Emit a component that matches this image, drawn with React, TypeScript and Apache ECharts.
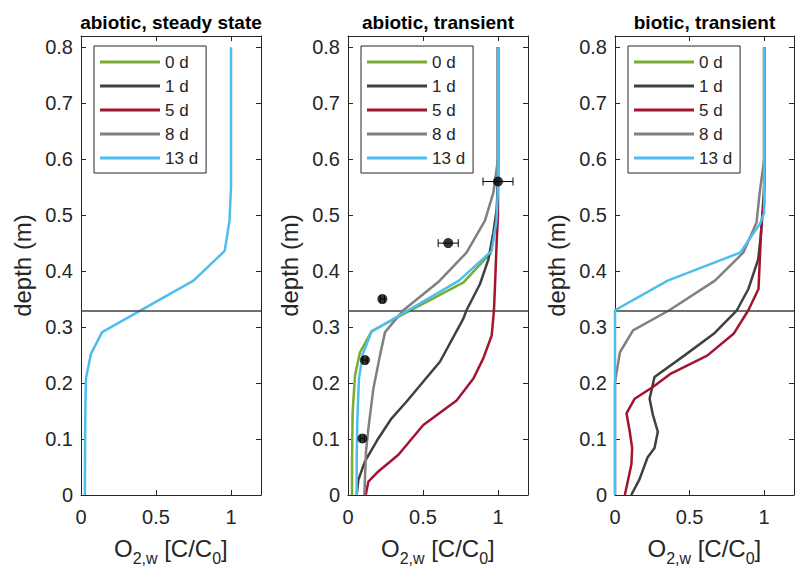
import React, { useEffect, useRef } from "react";
import * as echarts from "echarts";

// ---------- data: [O2 (C/C0), depth (m)] ----------
const LEGEND_NAMES = ["0 d", "1 d", "5 d", "8 d", "13 d"];
const COLORS: Record<string, string> = {
  "0 d": "#77AC30",
  "1 d": "#404040",
  "5 d": "#A2142F",
  "8 d": "#808080",
  "13 d": "#4DBEEE",
};
const PANEL_TITLES = ["abiotic, steady state", "abiotic, transient", "biotic, transient"];
const X_TICKS = [0, 0.5, 1];
const Y_TICKS = [0, 0.1, 0.2, 0.3, 0.4, 0.5, 0.6, 0.7, 0.8];
const INTERFACE_DEPTH = 0.33;

// panel 1: abiotic steady state
const SS_13D = [[0.026, 0], [0.027, 0.08], [0.029, 0.15], [0.033, 0.208], [0.066, 0.252], [0.141, 0.291], [0.75, 0.383], [0.958, 0.436], [0.99, 0.49], [1.0, 0.55], [1.0, 0.8]];

// panel 2: abiotic transient
const AT_0D = [[0.027, 0], [0.027, 0.066], [0.031, 0.149], [0.047, 0.214], [0.08, 0.255], [0.158, 0.293], [0.77, 0.38], [0.95, 0.432], [0.99, 0.49], [1.0, 0.55], [1.0, 0.8]];
const AT_1D = [[0.058, 0], [0.069, 0.027], [0.113, 0.06], [0.202, 0.101], [0.291, 0.137], [0.391, 0.167], [0.494, 0.2], [0.613, 0.238], [0.769, 0.315], [0.79, 0.33], [0.88, 0.377], [0.936, 0.421], [0.969, 0.469], [0.991, 0.51], [1.0, 0.56], [1.0, 0.8]];
const AT_5D = [[0.118, 0], [0.136, 0.024], [0.202, 0.042], [0.336, 0.072], [0.502, 0.125], [0.724, 0.169], [0.836, 0.208], [0.902, 0.244], [0.958, 0.285], [0.973, 0.33], [0.98, 0.374], [0.991, 0.451], [1.0, 0.5], [1.0, 0.8]];
const AT_8D = [[0.109, 0], [0.12, 0.078], [0.136, 0.119], [0.169, 0.19], [0.213, 0.249], [0.247, 0.291], [0.369, 0.33], [0.6, 0.38], [0.79, 0.433], [0.913, 0.49], [0.969, 0.54], [1.0, 0.6], [1.0, 0.8]];
const AT_13D = [[0.058, 0], [0.058, 0.066], [0.062, 0.131], [0.073, 0.208], [0.098, 0.252], [0.158, 0.292], [0.74, 0.383], [0.958, 0.436], [0.99, 0.49], [1.0, 0.55], [1.0, 0.8]];
// measurements: [x, depth, x error]
const AT_OBS = [[1.0, 0.56, 0.1], [0.668, 0.45, 0.067], [0.229, 0.35, 0.015], [0.113, 0.241, 0.015], [0.096, 0.101, 0.015]];

// panel 3: biotic transient
const BT_1D = [[0.109, 0], [0.164, 0.028], [0.218, 0.067], [0.265, 0.084], [0.287, 0.113], [0.254, 0.143], [0.232, 0.172], [0.265, 0.211], [0.464, 0.249], [0.662, 0.288], [0.817, 0.33], [0.894, 0.368], [0.96, 0.421], [0.98, 0.47], [1.0, 0.55], [1.0, 0.8]];
const BT_5D = [[0.066, 0], [0.09, 0.03], [0.11, 0.055], [0.115, 0.084], [0.099, 0.113], [0.077, 0.146], [0.132, 0.172], [0.254, 0.193], [0.375, 0.217], [0.618, 0.249], [0.795, 0.288], [0.894, 0.33], [0.962, 0.368], [0.971, 0.421], [0.982, 0.487], [1.0, 0.52], [1.0, 0.8]];
const BT_8D = [[0, 0], [0, 0.2], [0.011, 0.22], [0.033, 0.255], [0.121, 0.294], [0.364, 0.33], [0.67, 0.383], [0.86, 0.433], [0.949, 0.487], [0.97, 0.54], [1.0, 0.6], [1.0, 0.8]];
const BT_13D = [[0, 0], [0, 0.33], [0.353, 0.383], [0.839, 0.433], [0.971, 0.484], [1.0, 0.504], [1.0, 0.8]];

const PANEL_SERIES: { name: string; data: number[][] }[][] = [
  [{ name: "13 d", data: SS_13D }],
  [
    { name: "0 d", data: AT_0D },
    { name: "1 d", data: AT_1D },
    { name: "5 d", data: AT_5D },
    { name: "8 d", data: AT_8D },
    { name: "13 d", data: AT_13D },
  ],
  [
    { name: "1 d", data: BT_1D },
    { name: "5 d", data: BT_5D },
    { name: "8 d", data: BT_8D },
    { name: "13 d", data: BT_13D },
  ],
];

const X_MAX = 1.2;
const Y_MAX = 0.82;

const FONT = "'Liberation Sans', Arial, Helvetica, sans-serif";
const AXIS_COLOR = "#262626";

export default function App() {
  const ref = useRef<HTMLDivElement>(null);

  useEffect(() => {
    if (!ref.current) return;
    const chart = echarts.init(ref.current, undefined, { renderer: "svg" });

    const gridLefts = [81, 348, 615];
    const gridWidths = [180, 180, 179];
    const gridTop = 36;
    const gridHeight = 461;

    const grids: any[] = [];
    const xAxes: any[] = [];
    const yAxes: any[] = [];
    const series: any[] = [];
    const legends: any[] = [];
    const graphics: any[] = [];

    const fmtX = (v: number) => {
      const hit = X_TICKS.find((t) => Math.abs(t - v) < 1e-6);
      return hit === undefined ? "" : String(hit);
    };
    const fmtY = (v: number) => {
      const hit = Y_TICKS.find((t) => Math.abs(t - v) < 1e-6);
      return hit === undefined ? "" : String(hit);
    };

    for (let g = 0; g < 3; g++) {
      grids.push({
        left: gridLefts[g],
        top: gridTop,
        width: gridWidths[g],
        height: gridHeight,
        show: false,
      });
      const tick = { show: true, inside: true, length: 5, lineStyle: { color: AXIS_COLOR, width: 1 } };
      const line = { show: true, onZero: false, lineStyle: { color: AXIS_COLOR, width: 1 } };
      xAxes.push({
        type: "value",
        gridIndex: g,
        position: "bottom",
        min: 0,
        max: X_MAX,
        interval: 0.5,
        axisLine: line,
        axisTick: tick,
        splitLine: { show: false },
        axisLabel: {
          color: AXIS_COLOR,
          fontSize: 20,
          fontFamily: FONT,
          margin: 12,
          formatter: fmtX,
          showMaxLabel: false,
        },
        name: "{a|O}{s|2,w}{a| [C/C}{s|0}{a|]}{z| }",
        nameLocation: "middle",
        nameGap: 41,
        nameTextStyle: {
          color: AXIS_COLOR,
          fontFamily: FONT,
          rich: {
            a: { fontSize: 24, lineHeight: 24, verticalAlign: "top", color: AXIS_COLOR, fontFamily: FONT },
            s: { fontSize: 16, lineHeight: 16, verticalAlign: "bottom", color: AXIS_COLOR, fontFamily: FONT },
            z: { fontSize: 1, lineHeight: 30, verticalAlign: "top" },
          },
        },
      });
      xAxes.push({
        type: "value",
        gridIndex: g,
        position: "top",
        min: 0,
        max: X_MAX,
        interval: 0.5,
        axisLine: line,
        axisTick: tick,
        splitLine: { show: false },
        axisLabel: { show: false },
      });
      yAxes.push({
        type: "value",
        gridIndex: g,
        position: "left",
        min: 0,
        max: Y_MAX,
        interval: 0.1,
        axisLine: line,
        axisTick: tick,
        splitLine: { show: false },
        axisLabel: {
          color: AXIS_COLOR,
          fontSize: 20,
          fontFamily: FONT,
          margin: 8,
          formatter: fmtY,
          showMaxLabel: false,
        },
        name: "depth (m)",
        nameLocation: "middle",
        nameRotate: 90,
        nameGap: 47,
        nameTextStyle: { color: AXIS_COLOR, fontSize: 24, fontFamily: FONT },
      });
      yAxes.push({
        type: "value",
        gridIndex: g,
        position: "right",
        min: 0,
        max: Y_MAX,
        interval: 0.1,
        axisLine: line,
        axisTick: tick,
        splitLine: { show: false },
        axisLabel: { show: false },
      });

      PANEL_SERIES[g].forEach((s, i) => {
        const isLast = i === PANEL_SERIES[g].length - 1;
        series.push({
          type: "line",
          name: s.name,
          xAxisIndex: 2 * g,
          yAxisIndex: 2 * g,
          data: s.data,
          showSymbol: false,
          symbol: "none",
          lineStyle: { color: COLORS[s.name], width: 2.5 },
          itemStyle: { color: COLORS[s.name] },
          z: 2 + i,
          markLine: isLast
            ? {
                silent: true,
                symbol: "none",
                label: { show: false },
                lineStyle: { color: "#404040", width: 1.5, type: "solid" },
                data: [{ yAxis: INTERFACE_DEPTH }],
              }
            : undefined,
        });
      });

      legends.push({
        orient: "vertical",
        left: gridLefts[g] + 13,
        top: 46,
        data: LEGEND_NAMES,
        icon: "rect",
        itemWidth: 60,
        itemHeight: 3,
        itemGap: 4,
        selectedMode: false,
        padding: [6, 8, 5, 6],
        borderColor: AXIS_COLOR,
        borderWidth: 1,
        backgroundColor: "#ffffff",
        textStyle: { fontSize: 17, lineHeight: 20, color: AXIS_COLOR, fontFamily: FONT },
        z: 10,
      });

      graphics.push({
        type: "text",
        x: gridLefts[g] + gridWidths[g] / 2,
        y: 22,
        style: {
          text: PANEL_TITLES[g],
          textAlign: "center",
          textVerticalAlign: "middle",
          font: `bold 19px ${FONT}`,
          fill: "#000",
        },
      });
    }

    // error bars in panel 2
    series.push({
      type: "custom",
      name: "obs-err",
      xAxisIndex: 2,
      yAxisIndex: 2,
      data: AT_OBS,
      encode: { x: 0, y: 1 },
      z: 20,
      renderItem: (params: any, api: any) => {
        const x = api.value(0);
        const y = api.value(1);
        const e = api.value(2);
        const p1 = api.coord([x - e, y]);
        const p2 = api.coord([x + e, y]);
        const st = { stroke: "#000", lineWidth: 1 };
        return {
          type: "group",
          children: [
            { type: "line", shape: { x1: p1[0], y1: p1[1], x2: p2[0], y2: p2[1] }, style: st },
            { type: "line", shape: { x1: p1[0], y1: p1[1] - 4, x2: p1[0], y2: p1[1] + 4 }, style: st },
            { type: "line", shape: { x1: p2[0], y1: p2[1] - 4, x2: p2[0], y2: p2[1] + 4 }, style: st },
          ],
        };
      },
    });
    series.push({
      type: "scatter",
      name: "obs",
      xAxisIndex: 2,
      yAxisIndex: 2,
      data: AT_OBS.map((d) => [d[0], d[1]]),
      symbol: "circle",
      symbolSize: 10,
      itemStyle: { color: "#000" },
      z: 21,
    });

    chart.setOption({
      animation: false,
      backgroundColor: "#ffffff",
      textStyle: { fontFamily: FONT },
      grid: grids,
      xAxis: xAxes,
      yAxis: yAxes,
      legend: legends,
      series,
      graphic: graphics,
    });

    return () => chart.dispose();
  }, []);

  return <div ref={ref} style={{ width: 795, height: 571, position: "fixed", left: 0, top: 0 }} />;
}
